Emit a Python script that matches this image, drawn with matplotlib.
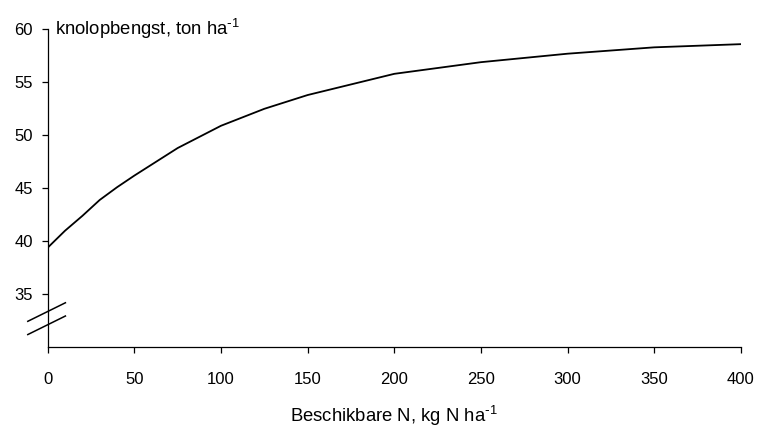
import matplotlib
matplotlib.use("Agg")
import matplotlib.pyplot as plt

plt.rcParams['font.family'] = ['Liberation Sans', 'DejaVu Sans']
plt.rcParams['mathtext.default'] = 'regular'

# stikstofrespons van de knolopbrengst
n_beschikbaar = [0, 10, 20, 30, 40, 50, 75, 100, 125, 150, 200, 250, 300, 350, 400]
opbrengst = [39.4, 41.0, 42.4, 43.9, 45.1, 46.2, 48.8, 50.9, 52.5, 53.8, 55.8, 56.9, 57.7, 58.3, 58.6]

x_ticks = [0, 50, 100, 150, 200, 250, 300, 350, 400]
y_ticks = [35, 40, 45, 50, 55, 60]

fig = plt.figure(figsize=(7.6, 4.28), dpi=100)
ax = fig.add_axes([0.0628, 0.1886, 0.912, 0.7429])

ax.plot(n_beschikbaar, opbrengst, color='black', lw=1.3)

ax.set_xlim(0, 400)
ax.set_ylim(30, 60)
ax.set_xticks(x_ticks)
ax.set_yticks(y_ticks)

for side in ['top', 'right']:
    ax.spines[side].set_visible(False)
for side in ['left', 'bottom']:
    ax.spines[side].set_linewidth(0.9)

ax.tick_params(axis='both', labelsize=12, width=0.9, length=4.3, direction='out')
ax.tick_params(axis='x', pad=13.5)
ax.tick_params(axis='y', pad=6.5)

# asbreuk op de y-as
for y0 in (32.45, 31.2):
    ax.plot([-11.5, 10.2], [y0, y0 + 1.75], color='black', lw=1.1, clip_on=False)

ax.text(0.011, 1.0, r'knolopbengst, ton ha$^{\text{-}1}$', transform=ax.transAxes,
        fontsize=13.3, ha='left', va='center')
ax.set_xlabel(r'Beschikbare N, kg N ha$^{\text{-}1}$', fontsize=13.3, labelpad=12)

fig.savefig('out.png', dpi=100)
